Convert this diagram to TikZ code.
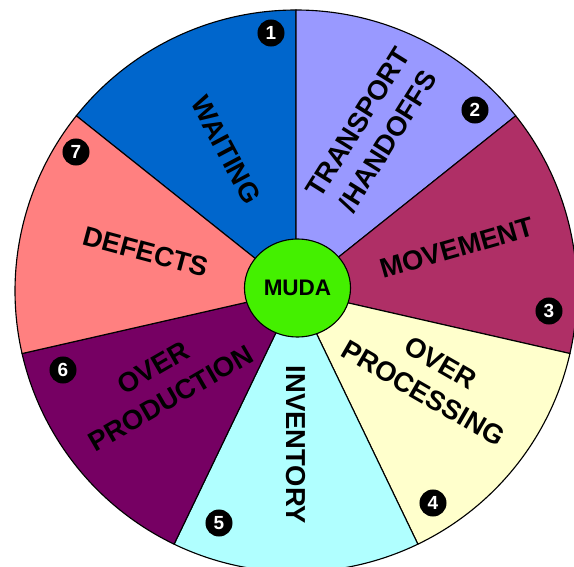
\documentclass[tikz,border=0pt]{standalone}
\usepackage{fontspec}
\setmainfont{Liberation Sans}
\usetikzlibrary{shapes.geometric}
\definecolor{WaitBlue}{HTML}{0066CC}
\definecolor{Lavender}{HTML}{9999FF}
\definecolor{Raspberry}{HTML}{AF2F66}
\definecolor{Cream}{HTML}{FFFFCC}
\definecolor{Aqua}{HTML}{B0FFFF}
\definecolor{Plum}{HTML}{760063}
\definecolor{Salmon}{HTML}{FF8080}
\definecolor{Lime}{HTML}{44F000}

\begin{document}
\begin{tikzpicture}[
  x=0.025cm,y=0.025cm,
  sector/.style={draw=black,line width=0.8pt},
  wastelabel/.style={font=\fontsize{19.5}{25}\selectfont\bfseries,align=center,inner sep=0pt},
  wastenum/.style={circle,fill=black,text=white,inner sep=0pt,minimum size=0.675cm,
    font=\fontsize{13.5}{14}\selectfont\bfseries},
  hub/.style={ellipse,draw=black,line width=0.8pt,fill=Lime,inner sep=0pt,
    minimum width=2.65cm,minimum height=2.45cm,font=\fontsize{16}{18}\selectfont\bfseries}
]
\useasboundingbox (-296,-276) rectangle (278,291);
\clip (-296,-276) rectangle (278,291);
% the seven wastes
\filldraw[sector,fill=WaitBlue] (0,0) -- (90:281) arc[start angle=90,end angle=141.43,radius=281] -- cycle;
\filldraw[sector,fill=Lavender] (0,0) -- (38.57:281) arc[start angle=38.57,end angle=90,radius=281] -- cycle;
\filldraw[sector,fill=Raspberry] (0,0) -- (-12.86:281) arc[start angle=-12.86,end angle=38.57,radius=281] -- cycle;
\filldraw[sector,fill=Cream] (0,0) -- (-64.29:281) arc[start angle=-64.29,end angle=-12.86,radius=281] -- cycle;
\filldraw[sector,fill=Aqua] (0,0) -- (-115.71:281) arc[start angle=-115.71,end angle=-64.29,radius=281] -- cycle;
\filldraw[sector,fill=Plum] (0,0) -- (-167.14:281) arc[start angle=-167.14,end angle=-115.71,radius=281] -- cycle;
\filldraw[sector,fill=Salmon] (0,0) -- (141.43:281) arc[start angle=141.43,end angle=192.86,radius=281] -- cycle;

\node[wastelabel,rotate=-62] (waiting) at (-70,141) {WAITING};
\node[wastelabel,rotate=58] (transport) at (77,159) {TRANSPORT\\/HANDOFFS};
\node[wastelabel,rotate=16] (movement) at (161,43) {MOVEMENT};
\node[wastelabel,rotate=-30] (overproc) at (136,-87) {OVER\\PROCESSING};
\node[wastelabel,rotate=-90] (inventory) at (0,-154) {INVENTORY};
\node[wastelabel,rotate=30] (overprod) at (-134,-92) {OVER\\PRODUCTION};
\node[wastelabel,rotate=-15] (defects) at (-150,39) {DEFECTS};

% numbers
\node[wastenum] (n1) at (-25,258) {1};
\node[wastenum] (n2) at (179,181) {2};
\node[wastenum] (n3) at (253,-20) {3};
\node[wastenum] (n4) at (137,-212) {4};
\node[wastenum] (n5) at (-77,-232) {5};
\node[wastenum] (n6) at (-233,-79) {6};
\node[wastenum] (n7) at (-220,139) {7};

\node[hub] (muda) at (1.5,3) {MUDA};
\end{tikzpicture}
\end{document}
